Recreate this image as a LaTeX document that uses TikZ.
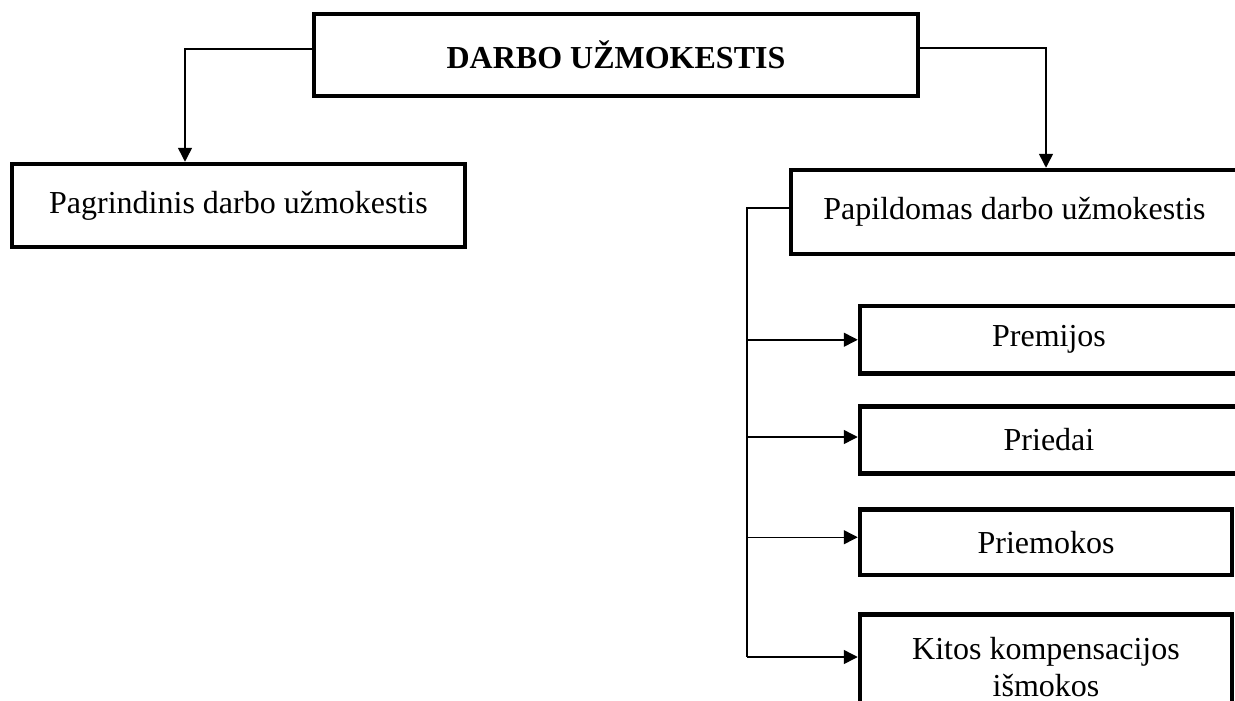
\documentclass[tikz,border=0pt]{standalone}
\usepackage{fontspec}
\setmainfont{Liberation Serif}
\usetikzlibrary{arrows.meta}
\begin{document}
\begin{tikzpicture}[x=1pt,y=-1pt,
  box/.style={draw=black, line width=4.5pt, rectangle, inner sep=0pt, align=center,
    font=\fontsize{32}{37}\selectfont},
  conn/.style={draw=black, line width=1.5pt},
  arr/.style={conn, -{Triangle[length=14pt,width=14pt]}}]
\useasboundingbox (0,0) rectangle (1235,701);
\clip (0,0) rectangle (1235,701);

\node[box, minimum width=604pt, minimum height=82pt] (top) at (616,55) {\textbf{DARBO UŽMOKESTIS}};
\node[box, minimum width=453pt, minimum height=83pt] (pag) at (238.5,205.5) {Pagrindinis darbo užmokestis};
\node[box, minimum width=447pt, minimum height=84pt] (pap) at (1014.5,212) {Papildomas darbo užmokestis};
\node[box, minimum width=378pt, minimum height=67.5pt] (prem) at (1049,339.75) {Premijos};
\node[box, minimum width=378pt, minimum height=67pt] (pried) at (1049,440) {Priedai};
\node[box, minimum width=372pt, minimum height=65.5pt] (priem) at (1046,542.25) {Priemokos};
\node[box, minimum width=372pt, minimum height=106pt] (kitos) at (1046,667.5) {Kitos kompensacijos\\išmokos};

\draw[arr] ([yshift=6pt]top.west) -| ([xshift=-53.5pt]pag.north);
\draw[arr] ([yshift=7pt]top.east) -| ([xshift=31.5pt]pap.north);

\coordinate (bus) at (747,657);
\coordinate (priedin) at ([yshift=3pt]pried.west);
\coordinate (priemin) at ([yshift=5pt]priem.west);
\draw[conn] ([yshift=4pt]pap.west) -| (bus);
\draw[arr] (bus |- prem.west) -- (prem.west);
\draw[arr] (bus |- priedin) -- (priedin);
\draw[arr] (bus |- priemin) -- (priemin);
\draw[arr] (bus) -- (bus -| kitos.west);
\end{tikzpicture}
\end{document}
